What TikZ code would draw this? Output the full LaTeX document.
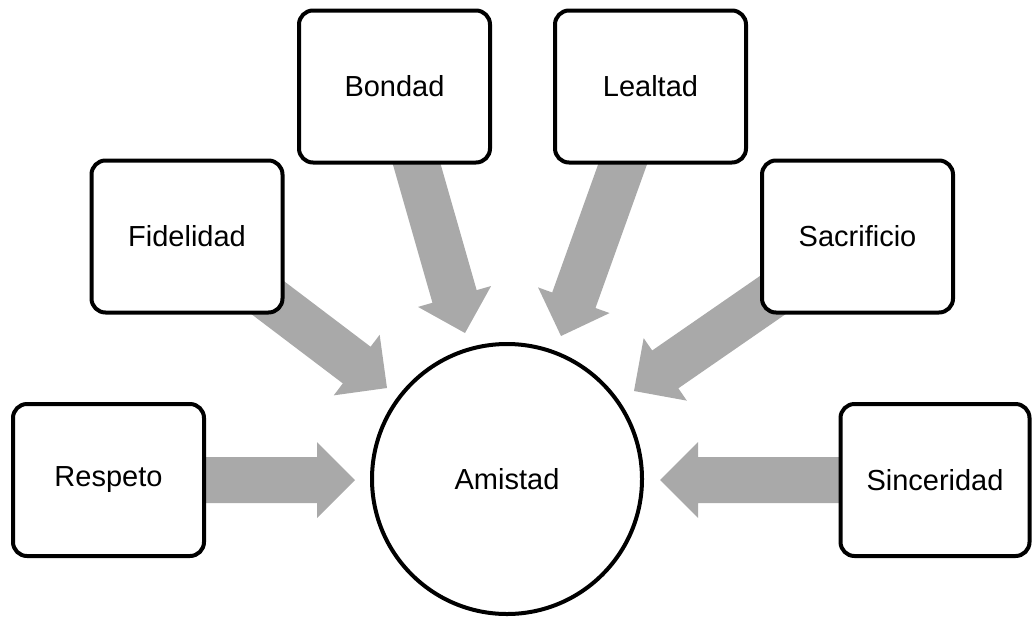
\documentclass[tikz,border=0pt]{standalone}
\usepackage{fontspec}
\setmainfont{Liberation Sans}
\usetikzlibrary{calc}
\definecolor{arrowgray}{RGB}{169,169,169}
\tikzset{
  itembox/.style={draw=black, line width=4pt, rounded corners=14pt, fill=white,
    minimum width=191pt, minimum height=152pt, inner sep=0pt,
    font=\fontsize{29}{35}\selectfont},
  hubcircle/.style={draw=black, line width=4pt, circle, fill=white,
    minimum size=270pt, inner sep=0pt, font=\fontsize{29}{35}\selectfont},
  fatgray/.style={fill=arrowgray, draw=none}
}
\newcommand\fatarrow[2]{%
  \path ($(#2)!38pt!(#1)$) coordinate (hb);
  \fill[fatgray] ($(#1)!23pt!90:(#2)$) -- ($(hb)!23pt!90:(#2)$) -- ($(hb)!38pt!90:(#2)$)
    -- (#2) -- ($(hb)!38pt!-90:(#2)$) -- ($(hb)!23pt!-90:(#2)$) -- ($(#1)!23pt!-90:(#2)$) -- cycle;
}
\begin{document}
\begin{tikzpicture}[x=1pt,y=-1pt]
\useasboundingbox (0,0) rectangle (1032,619);
% positions
\coordinate (cRes) at (108.5,480);
\coordinate (cFid) at (187,236.5);
\coordinate (cBon) at (394.5,86.5);
\coordinate (cLea) at (650.5,86.5);
\coordinate (cSac) at (857.5,236.5);
\coordinate (cSin) at (935,480);
% arrow tips
\coordinate (tRes) at (355,480);
\coordinate (tFid) at (387,388);
\coordinate (tBon) at (465,333);
\coordinate (tLea) at (561,336);
\coordinate (tSac) at (634,391);
\coordinate (tSin) at (660,480);
% arrows
\fatarrow{cRes}{tRes}
\fatarrow{cFid}{tFid}
\fatarrow{cBon}{tBon}
\fatarrow{cLea}{tLea}
\fatarrow{cSac}{tSac}
\fatarrow{cSin}{tSin}
% nodes
\node[hubcircle] (amistad) at (507,479) {Amistad};
\node[itembox] (respeto) at (cRes) {Respeto};
\node[itembox] (fidelidad) at (cFid) {Fidelidad};
\node[itembox] (bondad) at (cBon) {Bondad};
\node[itembox] (lealtad) at (cLea) {Lealtad};
\node[itembox] (sacrificio) at (cSac) {Sacrificio};
\node[itembox, minimum width=189pt] (sinceridad) at (cSin) {Sinceridad};
\end{tikzpicture}
\end{document}
